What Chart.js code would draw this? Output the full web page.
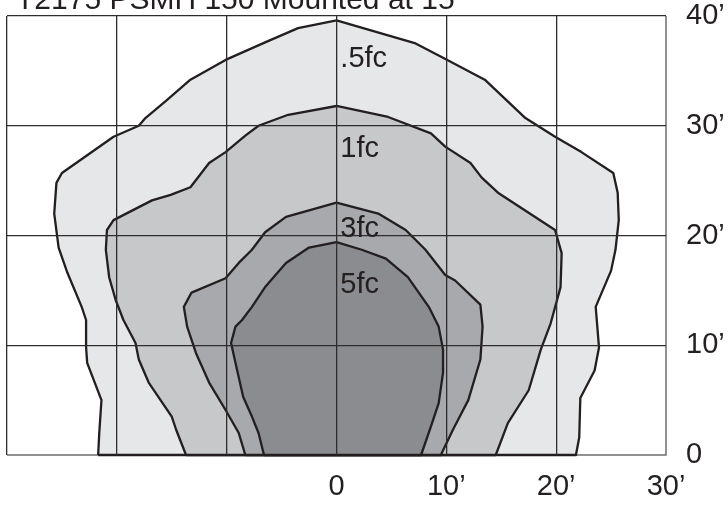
<!DOCTYPE html>
<html lang="en">
    <head>
        <meta charset="UTF-8">
        <title>T2175 PSMH 150 Mounted at 15'</title>
        <style>
            html, body { margin: 0; padding: 0; background: #ffffff; }
            #wrap { width: 728px; height: 506px; position: relative; }
        </style>
    </head>

    <script src="https://cdn.jsdelivr.net/npm/chart.js"></script>

    <body>
        <div id="wrap"><canvas id="myChart"></canvas></div>
    </body>

    <script>
        // title and contour names
        const chartTitle = "T2175 PSMH 150 Mounted at 15\u2019";
        const levelNames = [".5fc", "1fc", "3fc", "5fc"];
        const levelColours = ["#e6e7e8", "#c7c8ca", "#a7a9ac", "#8b8c8f"];
        // where each name sits (feet)
        const nameX = [0.35, 0.35, 0.35, 0.35];
        const nameY = [36.1, 27.9, 20.6, 15.5];

        // tick values (feet)
        const xTicks = [-30, -20, -10, 0, 10, 20, 30];
        const yTicks = [0, 10, 20, 30, 40];

        // .5fc contour
        const halfFcX = [-21.7, -21.6, -21.4, -22.7, -22.8, -22.8, -23.2, -24.5, -25.3, -25.7, -25.5, -25.0, -20.3, -18.0, -17.4, -15.5, -13.3, -10.1, -6.5, -3.5, 0, 7.2, 9.7, 13.5, 17.2, 19.9, 22.3, 25.2, 25.6, 25.7, 25.4, 25.0, 23.6, 23.9, 23.5, 22.2, 22.1, 21.8, -21.7];
        const halfFcY = [0, 2.0, 5.0, 8.4, 9.8, 12.3, 13.5, 16.6, 18.9, 22.0, 24.8, 25.7, 29.0, 30.0, 30.7, 32.3, 34.2, 36.0, 37.6, 38.9, 39.6, 37.5, 36.2, 34.2, 30.7, 29.0, 27.6, 25.7, 23.9, 21.4, 18.7, 16.8, 13.5, 9.8, 7.7, 5.2, 1.6, 0, 0];

        // 1fc contour
        const oneFcX = [-13.7, -14.6, -15.0, -17.1, -18.0, -18.3, -19.4, -20.1, -20.7, -21.0, -20.9, -20.3, -16.8, -15.1, -13.3, -11.6, -10.1, -8.3, -7.1, -4.4, 0, 4.7, 8.6, 9.9, 12.2, 13.2, 14.7, 19.9, 20.5, 20.4, 19.5, 18.6, 17.5, 15.6, 14.5, -13.7];
        const oneFcY = [0, 2.3, 3.5, 6.6, 8.7, 10.2, 12.3, 14.1, 16.2, 18.7, 20.5, 21.4, 23.2, 23.7, 24.4, 26.6, 27.6, 29.1, 30.0, 31.0, 31.8, 30.8, 29.3, 28.1, 26.6, 25.3, 23.9, 20.5, 18.4, 15.3, 12.0, 9.6, 5.9, 2.9, 0, 0];

        // 3fc contour
        const threeFcX = [-8.3, -8.9, -10.1, -11.6, -12.8, -13.6, -13.9, -13.2, -10.1, -8.9, -7.7, -6.5, -4.6, 0, 3.8, 6.3, 8.1, 9.9, 10.8, 13.1, 13.3, 13.1, 12.0, 10.6, 9.5, -8.3];
        const threeFcY = [0, 2.0, 4.1, 6.6, 9.3, 11.7, 13.5, 14.8, 16.1, 17.5, 18.7, 20.3, 21.7, 23.0, 22.0, 20.5, 18.7, 16.4, 15.9, 13.7, 11.7, 8.7, 5.0, 2.3, 0, 0];

        // 5fc contour
        const fiveFcX = [-6.6, -7.1, -7.7, -8.5, -9.2, -9.6, -9.2, -8.6, -7.7, -6.5, -4.6, -2.5, 0, 2.3, 4.5, 6.5, 8.4, 9.3, 9.7, 9.7, 9.3, 8.6, 7.7, -6.6];
        const fiveFcY = [0, 2.0, 3.5, 5.3, 8.4, 10.2, 11.7, 12.3, 13.5, 15.3, 17.5, 18.9, 19.4, 18.7, 17.9, 16.2, 13.5, 11.7, 9.6, 7.5, 4.7, 2.6, 0, 0];

        const inkColour = "#231f20";
        const gridColour = "#2e2c2d";
        const edgeColour = "#6d6e71";
        const font = "'Liberation Sans', Arial, Helvetica, sans-serif";

        function toPoints(xs, ys) {
            return xs.map((x, i) => ({ x: x, y: ys[i] }));
        }

        function feet(v) {
            return v === 0 ? "0" : v + "\u2019";
        }

        const contours = [
            toPoints(halfFcX, halfFcY),
            toPoints(oneFcX, oneFcY),
            toPoints(threeFcX, threeFcY),
            toPoints(fiveFcX, fiveFcY)
        ];

        // first dataset is drawn on top, so innermost goes first
        const datasets = [];
        for (let i = contours.length - 1; i >= 0; i--) {
            datasets.push({
                label: levelNames[i],
                data: contours[i],
                showLine: true,
                fill: "shape",
                backgroundColor: levelColours[i],
                borderColor: inkColour,
                borderWidth: 2.3,
                borderJoinStyle: "round",
                pointRadius: 0,
                tension: 0,
                clip: false
            });
        }

        // bottom and right edge of the plot, under the contours
        const edgePlugin = {
            id: "edges",
            beforeDatasetsDraw(chart) {
                const c = chart.ctx;
                const sx = chart.scales.x;
                const sy = chart.scales.y;
                const x0 = sx.getPixelForValue(xTicks[0]);
                const x1 = sx.getPixelForValue(xTicks[xTicks.length - 1]);
                const y0 = sy.getPixelForValue(yTicks[0]);
                const y1 = sy.getPixelForValue(yTicks[yTicks.length - 1]);
                c.save();
                c.strokeStyle = edgeColour;
                c.lineWidth = 1.5;
                c.beginPath();
                c.moveTo(x0, y0);
                c.lineTo(x1, y0);
                c.lineTo(x1, y1);
                c.stroke();
                c.restore();
            }
        };

        // title and contour names drawn as text
        const textPlugin = {
            id: "texts",
            afterDraw(chart) {
                const c = chart.ctx;
                const sx = chart.scales.x;
                const sy = chart.scales.y;
                c.save();
                c.fillStyle = inkColour;
                c.font = "30px " + font;
                c.textAlign = "left";
                c.textBaseline = "alphabetic";
                c.fillText(chartTitle, 16, 9);

                c.font = "29px " + font;
                c.textBaseline = "middle";
                for (let i = 0; i < levelNames.length; i++) {
                    c.fillText(levelNames[i], sx.getPixelForValue(nameX[i]), sy.getPixelForValue(nameY[i]));
                }
                c.restore();
            }
        };

        const ctx = document.getElementById("myChart").getContext("2d");
        const myChart = new Chart(ctx, {
            type: "scatter",
            data: { datasets: datasets },
            plugins: [edgePlugin, textPlugin],
            options: {
                responsive: true,
                maintainAspectRatio: false,
                animation: false,
                layout: { padding: { left: 7, top: 16, right: 0, bottom: 0 } },
                plugins: {
                    legend: { display: false },
                    tooltip: { enabled: false }
                },
                scales: {
                    x: {
                        type: "linear",
                        min: -30,
                        max: 30,
                        afterBuildTicks: s => { s.ticks = xTicks.map(v => ({ value: v })); },
                        afterFit: s => {
                            s.height = 51;
                            s.paddingLeft = 0;
                            s.paddingRight = 0;
                        },
                        ticks: {
                            color: inkColour,
                            font: { size: 29, family: font },
                            padding: 15,
                            maxRotation: 0,
                            autoSkip: false,
                            callback: v => (v < 0 ? "" : feet(v))
                        },
                        grid: {
                            z: 1,
                            drawTicks: false,
                            lineWidth: 1.3,
                            color: c => (c.tick && c.tick.value === 30 ? "rgba(0,0,0,0)" : gridColour)
                        },
                        border: { display: false }
                    },
                    y: {
                        type: "linear",
                        position: "right",
                        min: 0,
                        max: 40,
                        afterBuildTicks: s => { s.ticks = yTicks.map(v => ({ value: v })); },
                        afterFit: s => {
                            s.width = 62;
                            s.paddingTop = 0;
                            s.paddingBottom = 0;
                        },
                        ticks: {
                            color: inkColour,
                            font: { size: 29, family: font },
                            padding: 20,
                            labelOffset: 0,
                            callback: v => feet(v)
                        },
                        grid: {
                            z: 1,
                            drawTicks: false,
                            lineWidth: 1.3,
                            color: c => (c.tick && c.tick.value === 0 ? "rgba(0,0,0,0)" : gridColour)
                        },
                        border: { display: false }
                    }
                }
            }
        });
    </script>
</html>
